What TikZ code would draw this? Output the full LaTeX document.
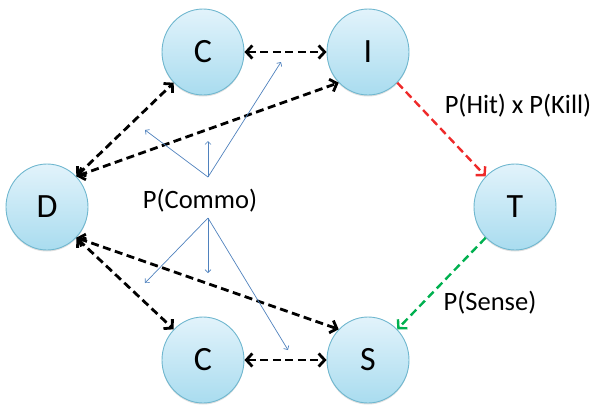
\documentclass[tikz,border=0pt]{standalone}
\usepackage{fontspec}
\setmainfont{Carlito}
\usetikzlibrary{arrows.meta,shapes.geometric,shadows}
\definecolor{nodeline}{HTML}{6FB7CF}
\definecolor{nodetop}{HTML}{E2F3FB}
\definecolor{nodebot}{HTML}{A9DCEF}
\definecolor{hitred}{HTML}{EE2A2A}
\definecolor{sensegreen}{HTML}{00B04F}
\definecolor{commoblue}{HTML}{4F81BD}
\begin{document}
\begin{tikzpicture}[x=1pt,y=-1pt,line width=2.8pt,>={Straight Barb[length=6pt,width=13pt]},
  agent/.style={ellipse,minimum width=82pt,minimum height=86pt,inner sep=0pt,
    draw=nodeline,line width=.9pt,top color=nodetop,bottom color=nodebot,
    drop shadow={opacity=.25,shadow xshift=0pt,shadow yshift=-1.5pt},
    font=\fontsize{34}{36}\selectfont},
  link/.style={<->,dash pattern=on 8pt off 4.5pt},
  fire/.style={->,line width=2.4pt,dash pattern=on 8pt off 4.5pt},
  commo/.style={->,commoblue,line width=.7pt,>={Straight Barb[length=3pt,width=6pt]}},
  lbl/.style={font=\fontsize{26.5}{28}\selectfont}]
\useasboundingbox (0,0) rectangle (592,405);
% nodes
\node[agent] (Ct) at (203,52) {C};
\node[agent] (I) at (368,52) {I};
\node[agent] (D) at (47,207) {D};
\node[agent] (T) at (515,207) {T};
\node[agent] (Cb) at (203,360) {C};
\node[agent] (S) at (368,360) {S};
% commo links
\draw[link] (Ct) -- (I);
\draw[link] (Cb) -- (S);
\draw[link] (D.north east) -- (Ct.south west);
\draw[link] (D.north east) -- (I.south west);
\draw[link] (D.south east) -- (Cb.north west);
\draw[link] (D.south east) -- (S.north west);
% kill chain
\draw[fire,hitred] (I.south east) -- (T.north west);
\draw[fire,sensegreen] (T.south west) -- (S.north east);
% labels
\node[lbl] (commo) at (200,201) {P(Commo)};
\node[lbl] (hit) at (518,106) {P(Hit) x P(Kill)};
\node[lbl] (sense) at (490,303) {P(Sense)};
% P(Commo) fan
\coordinate (up) at (208,177);
\coordinate (dn) at (208,218);
\coordinate (upL) at (145,130);
\coordinate (upM) at (208,141);
\coordinate (upR) at (281,62);
\coordinate (dnL) at (145,283);
\coordinate (dnM) at (208,273);
\coordinate (dnR) at (288,350);
\foreach \t in {upL,upM,upR} \draw[commo] (up) -- (\t);
\foreach \t in {dnL,dnM,dnR} \draw[commo] (dn) -- (\t);
\end{tikzpicture}
\end{document}
